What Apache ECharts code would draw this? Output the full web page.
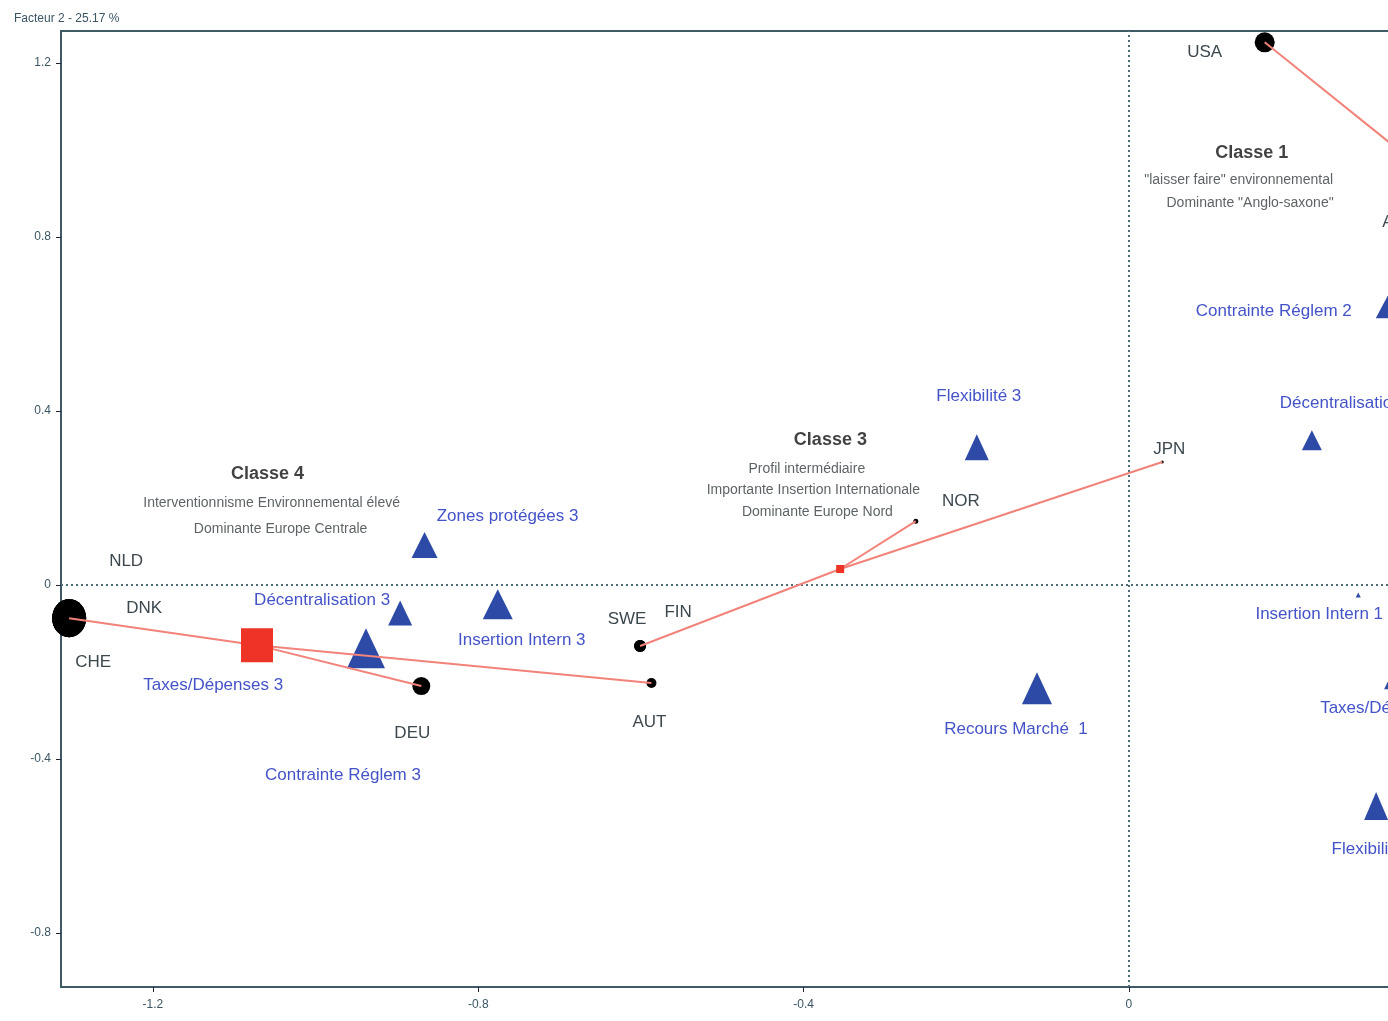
<!DOCTYPE html>
<html>
<head>
<meta charset="utf-8">
<script src="https://cdn.jsdelivr.net/npm/echarts@6/dist/echarts.min.js"></script>
<style>
html,body{margin:0;padding:0;background:#fff;}
#chart{width:1388px;height:1021px;}
</style>
</head>
<body>
<div id="chart"></div>
<script>
// ---------- DATA ----------
const axisTitle = 'Facteur 2 - 25.17 %';
const xTickValues = [-1.2, -0.8, -0.4, 0];
const yTickValues = [-0.8, -0.4, 0, 0.4, 0.8, 1.2];

const countryNames = ['USA', 'CHE', 'DNK', 'NLD', 'DEU', 'SWE', 'FIN', 'AUT', 'NOR', 'JPN', 'AUS'];
const countryX     = [0.167, -1.303, -1.303, -1.303, -0.870, -0.601, -0.601, -0.587, -0.262, 0.041, 0.333];
const countryY     = [1.248, -0.076, -0.076, -0.076, -0.232, -0.140, -0.140, -0.225, 0.147, 0.283, 0.885];

const categoryNames = ['Zones protégées 3', 'Insertion Intern 3', 'Décentralisation 3', 'Contrainte Réglem 3',
  'Taxes/Dépenses 3', 'Flexibilité 3', 'Recours Marché  1', 'Décentralisation 1', 'Contrainte Réglem 2',
  'Insertion Intern 1', 'Taxes/Dépenses 1', 'Flexibilité 1'];
const categoryX = [-0.866, -0.776, -0.896, -0.938, -1.073, -0.187, -0.113, 0.225, 0.322, 0.282, 0.331, 0.304];
const categoryY = [0.092, -0.044, -0.064, -0.145, -0.140, 0.317, -0.237, 0.333, 0.646, -0.023, -0.207, -0.508];

const classNames   = ['Classe 4', 'Classe 3', 'Classe 1'];
const classX       = [-1.072, -0.355, 0.370];
const classY       = [-0.138, 0.037, 0.943];
const classMembers = [['CHE', 'DEU', 'AUT'], ['SWE', 'NOR', 'JPN'], ['USA']];

const noteTexts = ['Classe 4', 'Interventionnisme Environnemental élevé', 'Dominante Europe Centrale',
  'Classe 3', 'Profil intermédiaire', 'Importante Insertion Internationale', 'Dominante Europe Nord',
  'Classe 1', '"laisser faire" environnemental', 'Dominante "Anglo-saxone"'];
const noteX = [-1.059, -1.054, -1.043, -0.367, -0.396, -0.388, -0.383, 0.151, 0.135, 0.149];
const noteY = [0.255, 0.189, 0.129, 0.333, 0.267, 0.218, 0.168, 0.993, 0.931, 0.878];

// ---------- STYLE ----------
const FONT = "'Liberation Sans',Arial,sans-serif";
const axisColor = '#3d5a66';
const countryStyle = {
  USA: {size: 20, off: [-60, 10]},
  CHE: {size: [34, 38], off: [24, 44]},
  DNK: {size: [34, 38], off: [75, -10]},
  NLD: {size: [34, 38], off: [57, -57]},
  DEU: {size: 18, off: [-9, 47]},
  SWE: {size: 12, off: [-13, -27]},
  FIN: {size: 12, off: [38, -34]},
  AUT: {size: 10, off: [-2, 39]},
  NOR: {size: 5, off: [45, -20]},
  JPN: {size: 3, off: [7, -13]},
  AUS: {size: 6, off: [0, 22]}
};
const categoryStyle = {
  'Zones protégées 3': {size: [26, 26], off: [83, -29]},
  'Insertion Intern 3': {size: [30, 30], off: [24, 36]},
  'Décentralisation 3': {size: [24, 25], off: [-78, -13]},
  'Contrainte Réglem 3': {size: [38, 40], off: [-23, 127]},
  'Taxes/Dépenses 3': {size: [26, 26], off: [-43, 39]},
  'Flexibilité 3': {size: [24, 26], off: [2, -51]},
  'Recours Marché  1': {size: [30, 32], off: [-21, 41]},
  'Décentralisation 1': {size: [20, 20], off: [36, -37]},
  'Contrainte Réglem 2': {size: [30, 28], off: [-117, 7]},
  'Insertion Intern 1': {size: [5, 5], off: [-39, 19]},
  'Taxes/Dépenses 1': {size: [28, 28], off: [-8, 33]},
  'Flexibilité 1': {size: [24, 28], off: [-2, 43]}
};
const classStyle = {'Classe 4': [32, 34], 'Classe 3': [8, 8], 'Classe 1': [12, 12]};
const noteStyle = [
  {bold: true}, {}, {}, {bold: true}, {}, {}, {}, {bold: true}, {}, {}
];

// ---------- BUILD ----------
const countryData = countryNames.map((n, i) => ({
  name: n, value: [countryX[i], countryY[i]],
  symbolSize: countryStyle[n].size,
  label: {offset: countryStyle[n].off}
}));
const categoryData = categoryNames.map((n, i) => ({
  name: n, value: [categoryX[i], categoryY[i]],
  symbolSize: categoryStyle[n].size,
  label: {offset: categoryStyle[n].off}
}));
const classData = classNames.map((n, i) => ({
  name: n, value: [classX[i], classY[i]], symbolSize: classStyle[n]
}));
const linkData = [];
classNames.forEach((c, ci) => {
  classMembers[ci].forEach(m => {
    const k = countryNames.indexOf(m);
    linkData.push({coords: [[classX[ci], classY[ci]], [countryX[k], countryY[k]]]});
  });
});
const noteData = noteTexts.map((t, i) => ({
  name: t, value: [noteX[i], noteY[i]],
  label: noteStyle[i].bold
    ? {fontWeight: 'bold', fontSize: 18, color: '#111'}
    : {}
}));

const fmt = v => (Math.abs(v) < 1e-9 ? '0' : String(Math.round(v * 10) / 10));
const XMIN = -1.313, XMAX = 0.3186, YMIN = -0.924, YMAX = 1.274;

const chart = echarts.init(document.getElementById('chart'), null, {renderer: 'canvas'});
chart.setOption({
  animation: false,
  backgroundColor: '#fff',
  title: {
    text: axisTitle, left: 9, top: 8,
    textStyle: {fontSize: 12, fontWeight: 'normal', color: '#3b5565', fontFamily: FONT}
  },
  grid: {left: 61, top: 31, bottom: 34, right: 0, show: false},
  xAxis: [{
    type: 'value', min: XMIN, max: XMAX,
    axisLine: {show: true, onZero: false, lineStyle: {color: axisColor, width: 2}},
    axisTick: {show: true, customValues: xTickValues, length: 5, lineStyle: {color: '#223', width: 1}},
    axisLabel: {show: true, customValues: xTickValues, formatter: fmt, margin: 12, fontSize: 12, color: '#3b5565', fontFamily: FONT},
    splitLine: {show: false}
  }, {
    type: 'value', position: 'top', min: XMIN, max: XMAX,
    axisLine: {show: true, onZero: false, lineStyle: {color: axisColor, width: 2}},
    axisTick: {show: false}, axisLabel: {show: false}, splitLine: {show: false}
  }],
  yAxis: {
    type: 'value', min: YMIN, max: YMAX,
    axisLine: {show: true, onZero: false, lineStyle: {color: axisColor, width: 2}},
    axisTick: {show: true, customValues: yTickValues, length: 5, lineStyle: {color: '#223', width: 1}},
    axisLabel: {show: true, customValues: yTickValues, formatter: fmt, margin: 10, fontSize: 12, color: '#3b5565', fontFamily: FONT},
    splitLine: {show: false}
  },
  series: [
    {
      name: 'categories', type: 'scatter', symbol: 'triangle', z: 3, clip: false,
      itemStyle: {color: '#2c4aa6', opacity: 1},
      label: {show: true, position: 'inside', formatter: '{b}', color: '#4453c8', fontSize: 17, fontFamily: FONT},
      data: categoryData,
      markLine: {
        silent: true, symbol: ['none', 'none'], label: {show: false},
        lineStyle: {color: '#4e6e7c', type: [2, 3], width: 2},
        emphasis: {disabled: true},
        data: [{xAxis: 0}, {yAxis: 0}]
      }
    },
    {
      name: 'countries', type: 'scatter', symbol: 'circle', z: 4, clip: false,
      itemStyle: {color: '#000', opacity: 1},
      label: {show: true, position: 'inside', formatter: '{b}', color: '#3c484e', fontSize: 17, fontFamily: FONT},
      data: countryData
    },
    {
      name: 'links', type: 'lines', coordinateSystem: 'cartesian2d', z: 5, clip: false,
      lineStyle: {color: '#f2837a', width: 2, opacity: 1, curveness: 0},
      data: linkData
    },
    {
      name: 'classes', type: 'scatter', symbol: 'rect', z: 6, clip: false,
      itemStyle: {color: '#ee3426', opacity: 1},
      data: classData
    },
    {
      name: 'notes', type: 'scatter', symbolSize: 0, z: 7, clip: false,
      itemStyle: {color: 'rgba(0,0,0,0)'},
      label: {show: true, position: 'inside', formatter: '{b}', color: '#333b3f', fontSize: 14, fontFamily: FONT},
      data: noteData
    }
  ]
});
</script>
</body>
</html>
